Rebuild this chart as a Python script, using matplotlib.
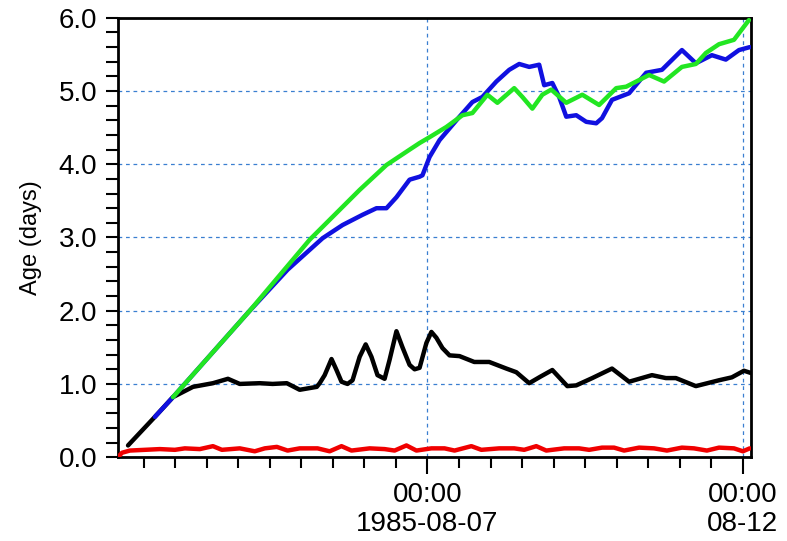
import numpy as np
import matplotlib
matplotlib.use("Agg")
import matplotlib.pyplot as plt
import matplotlib.dates as mdates
from matplotlib.ticker import FixedLocator, MultipleLocator, FormatStrFormatter

plt.rcParams['font.family'] = ['Liberation Sans', 'DejaVu Sans']

# Time origin and axis range (hours since 1985-08-02 00:00)
base = np.datetime64('1985-08-02T00:00')
x_start_h, x_end_h = 2.3, 243.0

# Black series
black_h = [6.1, 16.3, 23.2, 30.8, 38.4, 44.1, 48.6, 56.2, 61.1, 66.5, 71.4, 77.9, 79.0,
           80.9, 83.5, 85.4, 87.3, 89.6, 91.5, 94.2, 96.5, 98.7, 101.0, 103.7, 105.6,
           108.2, 110.5, 113.2, 115.1, 117.0, 119.6, 121.5, 123.4, 125.7, 128.4,
           132.2, 137.8, 143.5, 150.0, 153.8, 158.7, 163.0, 167.5, 173.2, 176.6, 182.7,
           190.2, 196.7, 205.4, 210.7, 214.5, 222.1, 230.9, 235.8, 240.4, 243.0]
black_v = [0.16, 0.55, 0.82, 0.96, 1.01, 1.07, 1.00, 1.01, 1.00, 1.01, 0.92, 0.96, 1.01,
           1.12, 1.34, 1.19, 1.03, 1.00, 1.05, 1.37, 1.54, 1.37, 1.12, 1.07, 1.33,
           1.72, 1.50, 1.26, 1.20, 1.22, 1.56, 1.71, 1.63, 1.49, 1.39,
           1.38, 1.30, 1.30, 1.21, 1.16, 1.01, 1.10, 1.19, 0.97, 0.98, 1.08,
           1.21, 1.03, 1.12, 1.08, 1.08, 0.97, 1.05, 1.09, 1.18, 1.15]

# Blue series
blue_h = [16.3, 23.2, 52.4, 66.8, 80.1, 87.7, 95.3, 100.6, 104.4, 108.2, 113.2, 117.0,
          118.1, 120.8, 124.6, 132.2, 137.1, 140.9, 146.2, 151.1, 154.9, 158.7, 162.5,
          164.4, 167.5, 170.1, 172.8, 176.6, 180.4, 184.2, 186.4, 190.2, 196.7, 203.2,
          209.2, 216.8, 222.1, 228.2, 233.5, 238.5, 242.6]
blue_v = [0.55, 0.82, 2.00, 2.56, 2.99, 3.17, 3.31, 3.40, 3.40, 3.55, 3.79, 3.83,
          3.85, 4.10, 4.33, 4.65, 4.85, 4.92, 5.13, 5.29, 5.37, 5.33, 5.36,
          5.08, 5.11, 4.92, 4.65, 4.67, 4.58, 4.56, 4.63, 4.88, 4.97, 5.25,
          5.29, 5.56, 5.38, 5.49, 5.43, 5.56, 5.60]

# Green series
green_h = [23.2, 52.4, 75.2, 94.2, 104.4, 113.2, 117.0, 120.8, 127.2, 133.3, 137.1,
           142.8, 146.6, 153.0, 156.1, 159.9, 163.7, 167.1, 172.8, 178.9, 185.3,
           191.8, 195.6, 204.3, 210.0, 216.8, 222.1, 225.9, 230.9, 236.6, 242.3]
green_v = [0.82, 2.00, 2.97, 3.65, 3.99, 4.20, 4.29, 4.37, 4.51, 4.67, 4.70,
           4.95, 4.84, 5.04, 4.92, 4.76, 4.95, 5.02, 4.84, 4.95, 4.81,
           5.04, 5.06, 5.22, 5.13, 5.33, 5.37, 5.52, 5.64, 5.70, 5.97]

# Red series
red_h = [2.3, 3.8, 6.8, 12.5, 18.2, 23.9, 27.7, 33.4, 38.4, 41.8, 48.6, 54.3, 58.1,
         62.7, 66.8, 71.4, 78.2, 82.8, 87.3, 91.1, 98.0, 103.7, 107.5, 112.0, 115.8,
         121.5, 126.5, 130.3, 136.7, 140.5, 147.3, 153.0, 156.8, 161.4, 165.2, 172.0,
         177.7, 181.5, 186.4, 191.0, 194.8, 200.5, 206.2, 211.1, 216.8, 221.4, 226.3,
         230.9, 236.6, 240.0, 242.6]
red_v = [0.00, 0.06, 0.09, 0.10, 0.11, 0.10, 0.12, 0.11, 0.15, 0.10, 0.12, 0.08, 0.12,
         0.14, 0.09, 0.12, 0.12, 0.08, 0.15, 0.09, 0.12, 0.11, 0.09, 0.16, 0.09,
         0.12, 0.12, 0.09, 0.15, 0.10, 0.12, 0.12, 0.10, 0.15, 0.09, 0.12,
         0.12, 0.10, 0.13, 0.13, 0.09, 0.13, 0.12, 0.09, 0.13, 0.12, 0.09,
         0.13, 0.12, 0.08, 0.12]

xtick_dates = ['1985-08-07T00:00', '1985-08-12T00:00']
xtick_labels = ['00:00\n1985-08-07', '00:00\n08-12']
ylabel = 'Age (days)'


def to_dates(hours):
    return base + (np.asarray(hours) * 60).astype('timedelta64[m]')


fig = plt.figure(figsize=(7.87, 5.41), dpi=100)
ax = fig.add_axes([0.150, 0.155, 0.804, 0.812])

lw = 3.2
style = dict(lw=lw, solid_capstyle='round', solid_joinstyle='round')
ax.plot(to_dates(red_h), red_v, color='#f00000', zorder=3, **style)
ax.plot(to_dates(black_h), black_v, color='black', zorder=4, **style)
ax.plot(to_dates(blue_h), blue_v, color='#1010e0', zorder=5, **style)
ax.plot(to_dates(green_h), green_v, color='#22e622', zorder=6, **style)

ax.set_xlim(to_dates([x_start_h])[0], to_dates([x_end_h])[0])
ax.set_ylim(0, 6)

major_x = mdates.date2num(np.array(xtick_dates, dtype='datetime64[m]'))
ax.xaxis.set_major_locator(FixedLocator(major_x))
ax.set_xticklabels(xtick_labels)
ax.xaxis.set_minor_locator(mdates.HourLocator(byhour=[0, 12]))

ax.yaxis.set_major_locator(MultipleLocator(1.0))
ax.yaxis.set_minor_locator(MultipleLocator(0.2))
ax.yaxis.set_major_formatter(FormatStrFormatter('%.1f'))

ax.grid(True, which='major', color='#3a7fd0', linestyle=(0, (3, 3)), linewidth=0.9)
ax.set_axisbelow(True)

for s in ax.spines.values():
    s.set_linewidth(2)
    s.set_color('black')

ax.tick_params(axis='y', which='both', direction='out', length=9, width=1.5,
               labelsize=20, pad=6)
ax.tick_params(axis='x', which='major', direction='out', length=12, width=1.5,
               labelsize=20, pad=6)
ax.tick_params(axis='x', which='minor', direction='out', length=8, width=1.5)
for lab in ax.get_xticklabels():
    lab.set_linespacing(1.15)

ax.set_ylabel(ylabel, fontsize=17, labelpad=12)

fig.savefig('out.png', dpi=100)
